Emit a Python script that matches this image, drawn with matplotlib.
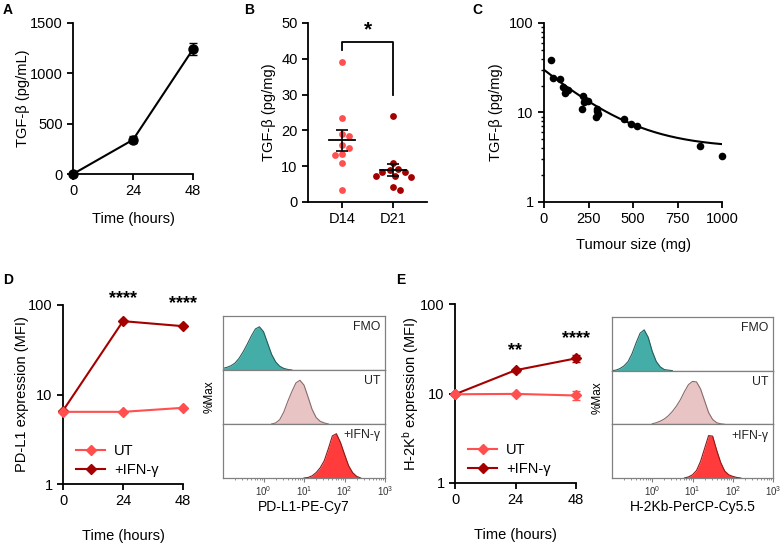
import numpy as np
import matplotlib.pyplot as plt
from matplotlib.lines import Line2D
from matplotlib.ticker import LogLocator, NullFormatter

plt.rcParams['font.family'] = ['Liberation Sans', 'DejaVu Sans']
plt.rcParams['mathtext.fontset'] = 'custom'
plt.rcParams['mathtext.rm'] = 'Liberation Sans'
plt.rcParams['mathtext.default'] = 'regular'
plt.rcParams['axes.linewidth'] = 1.3
plt.rcParams['xtick.major.width'] = 1.3
plt.rcParams['ytick.major.width'] = 1.3
plt.rcParams['xtick.major.size'] = 4
plt.rcParams['ytick.major.size'] = 4
plt.rcParams['font.size'] = 10

# ---- data ----
# A: in vitro TGF-b
time_h = [0, 24, 48]
tgf_invitro = [0, 340, 1240]
tgf_invitro_err = [0, 35, 60]

# B: tumour TGF-b at day 14 / day 21
d14_vals = [39, 23.5, 19, 18.5, 16, 15, 13, 11, 3.3, 13.5]
d21_vals = [24, 10.8, 9.2, 8.8, 8.5, 8.3, 7.3, 7.0, 7.2, 4.2, 3.3]
groups = ['D14', 'D21']

# C: TGF-b vs tumour size
tum_size = [39, 52, 90, 108, 118, 123, 136, 217, 222, 230, 249, 215, 295, 300, 305, 292, 449, 486, 523, 877, 1000]
tum_tgf = [38.6, 24.2, 23.7, 19.2, 16.4, 17.2, 17.9, 15.1, 13.0, 13.9, 13.5, 10.9, 10.9, 10.3, 9.6, 8.9, 8.5, 7.5, 7.1, 4.2, 3.3]
fit_y0, fit_plateau, fit_k = 30.0, 4.0, 0.0041  # one phase decay

# D: PD-L1 MFI
pdl1_ut = [6.4, 6.4, 7.1]
pdl1_ifn = [6.6, 66, 58]
pdl1_stars = [(24, 118, '****'), (48, 104, '****')]

# E: H-2Kb MFI
h2kb_ut = [9.8, 9.9, 9.5]
h2kb_ut_err = [0.3, 0.3, 1.1]
h2kb_ifn = [9.8, 18.2, 24.7]
h2kb_ifn_err = [0.3, 0.8, 2.0]
h2kb_stars = [(24, 30, '**'), (48, 41, '****')]

# histograms: heights (fraction of %Max panel) on a 0.1-decade grid, from log10 start
hist_labels = ['FMO', 'UT', '+IFN-γ']
pdl1_hist_start = [-1.0, 0.2, 1.0]
pdl1_hist = [
    [0.03, 0.05, 0.08, 0.13, 0.22, 0.34, 0.48, 0.63, 0.76, 0.80, 0.71, 0.50, 0.29, 0.15, 0.07, 0.03, 0.01, 0.0],
    [0.0, 0.02, 0.08, 0.22, 0.42, 0.60, 0.76, 0.81, 0.72, 0.50, 0.27, 0.12, 0.05, 0.02, 0.0],
    [0.0, 0.01, 0.04, 0.10, 0.19, 0.32, 0.54, 0.78, 0.82, 0.66, 0.44, 0.23, 0.10, 0.03, 0.0],
]
h2kb_hist_start = [-1.0, 0.0, 0.8]
h2kb_hist = [
    [0.0, 0.01, 0.04, 0.09, 0.17, 0.32, 0.52, 0.70, 0.76, 0.62, 0.36, 0.17, 0.07, 0.02, 0.01, 0.0],
    [0.01, 0.03, 0.06, 0.10, 0.16, 0.24, 0.34, 0.46, 0.61, 0.74, 0.80, 0.79, 0.66, 0.44, 0.22, 0.09, 0.03, 0.01, 0.0],
    [0.0, 0.02, 0.06, 0.14, 0.31, 0.55, 0.79, 0.78, 0.52, 0.29, 0.13, 0.06, 0.03, 0.01, 0.0],
]
hist_fill = ['#45ada8', '#e8c4c4', '#ff3b3b']
hist_edge = ['#255f5c', '#8a6b6b', '#8b1a1a']

c_light = '#ff4f4f'
c_dark = '#a50000'

W, H = 781, 543
fig = plt.figure(figsize=(W / 100, H / 100), dpi=100)


def box(l, t, r, b):
    return [l / W, 1 - b / H, (r - l) / W, (b - t) / H]


def clean(ax):
    ax.spines['top'].set_visible(False)
    ax.spines['right'].set_visible(False)
    ax.tick_params(direction='out', labelsize=10.5, colors='black')


def swarm(vals, ppx, ppy, diam=7.2):
    # simple beeswarm offsets (in data x units)
    placed = []
    xs = np.zeros(len(vals))
    cands = [0] + [s * k for k in range(1, 40) for s in (1, -1)]
    for i in np.argsort(vals)[::-1]:
        y = vals[i] * ppy
        for c in cands:
            if all((c - px) ** 2 + (y - py) ** 2 >= diam ** 2 for px, py in placed):
                placed.append((c, y))
                xs[i] = c / ppx
                break
    return xs


# ---- A ----
ax = fig.add_axes(box(73, 23, 193, 174))
clean(ax)
ax.errorbar(time_h, tgf_invitro, yerr=tgf_invitro_err, color='black', lw=1.5,
            marker='o', ms=6.5, capsize=3, elinewidth=1, clip_on=False, zorder=3)
ax.set_xlim(0, 48)
ax.set_ylim(0, 1500)
ax.set_xticks(time_h)
ax.set_yticks([0, 500, 1000, 1500])
ax.set_ylabel('TGF-β (pg/mL)', fontsize=10.5, labelpad=0)
ax.set_xlabel('Time (hours)', fontsize=10.5, labelpad=10)

# ---- B ----
ax = fig.add_axes(box(308, 23, 427, 202))
clean(ax)
for i, (vals, col) in enumerate(zip([d14_vals, d21_vals], [c_light, c_dark])):
    vals = np.array(vals)
    xs = i + swarm(vals, 51.0, 179 / 50)
    ax.scatter(xs, vals, s=24, color=col, zorder=2, lw=0)
    m = vals.mean()
    sem = vals.std(ddof=1) / np.sqrt(len(vals))
    ax.plot([i - 0.25, i + 0.25], [m, m], color='black', lw=1.3, zorder=3)
    ax.errorbar([i], [m], yerr=[sem], color='black', capsize=4, elinewidth=1.2, capthick=1.2, zorder=3)
ax.plot([0, 0, 1, 1], [42.5, 44.8, 44.8, 30], color='black', lw=1.3)
ax.text(0.5, 45.3, '*', ha='center', va='bottom', fontsize=15, fontweight='bold')
ax.set_xlim(-0.667, 1.667)
ax.set_ylim(0, 50)
ax.set_xticks([0, 1])
ax.set_xticklabels(groups)
ax.set_yticks(range(0, 51, 10))
ax.set_ylabel('TGF-β (pg/mg)', fontsize=10.5)

# ---- C ----
ax = fig.add_axes(box(544, 23, 722, 202))
clean(ax)
ax.scatter(tum_size, tum_tgf, s=30, color='black', zorder=3, lw=0, clip_on=False)
xf = np.linspace(0, 1000, 200)
ax.plot(xf, (fit_y0 - fit_plateau) * np.exp(-fit_k * xf) + fit_plateau, color='black', lw=1.5)
ax.set_yscale('log')
ax.set_ylim(1, 100)
ax.set_xlim(0, 1000)
ax.set_xticks([0, 250, 500, 750, 1000])
ax.set_yticks([1, 10, 100])
ax.set_yticklabels(['1', '10', '100'])
ax.yaxis.set_minor_locator(LogLocator(subs=np.arange(2, 10)))
ax.yaxis.set_minor_formatter(NullFormatter())
ax.tick_params(which='minor', length=2.5, width=1)
ax.set_ylabel('TGF-β (pg/mg)', fontsize=10.5)
ax.set_xlabel('Tumour size (mg)', fontsize=10.5, labelpad=8)


# ---- D / E line plots ----
def mfi_panel(rect, ut, ifn, ut_err, ifn_err, stars, ylabel):
    ax = fig.add_axes(box(*rect))
    clean(ax)
    ax.errorbar(time_h, ifn, yerr=ifn_err, color=c_dark, marker='D', ms=5.5, lw=1.5,
                capsize=3, elinewidth=1, clip_on=False, zorder=3)
    ax.errorbar(time_h, ut, yerr=ut_err, color=c_light, marker='D', ms=5.5, lw=1.5,
                capsize=3, elinewidth=1, clip_on=False, zorder=4)
    for x, y, s in stars:
        ax.text(x, y, s, ha='center', va='center', fontsize=13, fontweight='bold', clip_on=False)
    ax.set_yscale('log')
    ax.set_ylim(1, 100)
    ax.set_xlim(0, 48)
    ax.set_xticks(time_h)
    ax.set_yticks([1, 10, 100])
    ax.set_yticklabels(['1', '10', '100'])
    ax.yaxis.set_minor_formatter(NullFormatter())
    ax.tick_params(which='minor', length=0)
    ax.set_ylabel(ylabel, fontsize=10.5, labelpad=-1)
    ax.set_xlabel('Time (hours)', fontsize=10.5, labelpad=15)
    handles = [Line2D([], [], color=c_light, marker='D', ms=5.5, lw=1.5),
               Line2D([], [], color=c_dark, marker='D', ms=5.5, lw=1.5)]
    ax.legend(handles, ['UT', '+IFN-γ'], loc='lower left', bbox_to_anchor=(0.0, -0.035), frameon=False,
              fontsize=10.5, handlelength=2.0, handletextpad=0.6, labelspacing=0.35)
    return ax


mfi_panel((63, 305, 183, 484), pdl1_ut, pdl1_ifn, None, None, pdl1_stars,
          'PD-L1 expression (MFI)')
mfi_panel((455, 304, 576, 483), h2kb_ut, h2kb_ifn, h2kb_ut_err, h2kb_ifn_err, h2kb_stars,
          'H-2K$^{b}$ expression (MFI)')


# ---- histograms ----
def hist_stack(rect, starts, heights, xlabel, ylab_x):
    l, t, r, b = rect
    ph = (b - t) / 3
    for i in range(3):
        ax = fig.add_axes(box(l, t + i * ph, r, t + (i + 1) * ph))
        hv = np.array(heights[i])
        x = 10 ** (starts[i] + 0.1 * np.arange(len(hv)))
        ax.fill_between(x, hv, color=hist_fill[i], lw=0)
        ax.plot(x, hv, color=hist_edge[i], lw=0.8)
        ax.set_xscale('log')
        ax.set_xlim(0.1, 1000)
        ax.set_ylim(0, 1)
        for sp in ax.spines.values():
            sp.set_color('#808080')
            sp.set_linewidth(0.9)
        ax.set_yticks([])
        ax.text(0.97, 0.9, hist_labels[i], transform=ax.transAxes, ha='right', va='top',
                fontsize=8.8, color='#222222')
        if i < 2:
            ax.set_xticks([])
            ax.xaxis.set_minor_locator(plt.NullLocator())
        else:
            ax.set_xticks([1, 10, 100, 1000])
            ax.xaxis.set_minor_locator(LogLocator(subs=np.arange(2, 10), numticks=20))
            ax.xaxis.set_minor_formatter(NullFormatter())
            ax.tick_params(axis='x', which='major', length=3, width=0.8, labelsize=7,
                           colors='#808080', labelcolor='#333333', pad=1.5)
            ax.tick_params(axis='x', which='minor', length=1.5, width=0.6, colors='#808080')
            ax.set_xlabel(xlabel, fontsize=10, labelpad=1.5)
    fig.text(ylab_x / W, 1 - (t + b) / 2 / H, '%Max', rotation=90, ha='center', va='center', fontsize=8.5)


hist_stack((223, 316, 385, 478), pdl1_hist_start, pdl1_hist, 'PD-L1-PE-Cy7', 210)
hist_stack((612, 317, 773, 478), h2kb_hist_start, h2kb_hist, 'H-2Kb-PerCP-Cy5.5', 598)

# panel letters
for lab, x, y in [('A', 3, 3), ('B', 244, 3), ('C', 472, 3), ('D', 3, 273), ('E', 396, 273)]:
    fig.text(x / W, 1 - y / H, lab, ha='left', va='top', fontsize=10, fontweight='bold')

fig.savefig('out.png', dpi=100)
